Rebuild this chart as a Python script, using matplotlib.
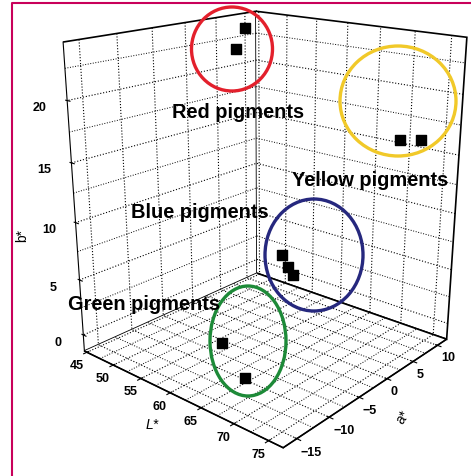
import numpy as np
import matplotlib
matplotlib.use("Agg")
import matplotlib.pyplot as plt
from matplotlib.patches import Ellipse
from matplotlib.lines import Line2D
from matplotlib.transforms import offset_copy

# pigment coordinates (L*, a*, b*)
L_vals = [46.5, 47.0, 70.0, 73.0, 55.0, 56.0, 57.0, 63.0, 67.0]
a_vals = [8.0, 6.0, 10.0, 10.0, 6.0, 6.0, 6.0, -12.0, -12.5]
b_vals = [23.5, 21.8, 15.7, 16.1, 3.8, 2.8, 2.2, 2.0, 0.1]

L_ticks = [45, 50, 55, 60, 65, 70, 75]
a_ticks = [-15, -10, -5, 0, 5, 10]
b_ticks = [0, 5, 10, 15, 20]

group_names = ["Red pigments", "Yellow pigments", "Blue pigments", "Green pigments"]
group_colors = ["#e3202c", "#f1c929", "#26287e", "#1d8a38"]

W, H = 471, 477
Llim, alim, blim = (44.5, 77), (-17, 12), (-1.5, 24.5)

plt.rcParams['grid.color'] = 'k'
plt.rcParams['grid.linestyle'] = ':'
plt.rcParams['grid.linewidth'] = 0.8
plt.rcParams['font.family'] = ['Liberation Sans', 'DejaVu Sans']

fig = plt.figure(figsize=(W/100, H/100), dpi=100)
ax = fig.add_axes([0.055, 0.064, 1.0, 1.0], projection='3d')
ax.set_proj_type('persp', focal_length=0.38)
ax.view_init(elev=19, azim=-49)

ax.scatter(L_vals, a_vals, b_vals, marker='s', s=60, c='k', depthshade=False)

# minor grid lines (floor and walls)
gkw = dict(color='k', ls=':', lw=0.7)
for v in np.arange(47.5, 76, 5):
    ax.plot([v, v], alim, [blim[0]] * 2, **gkw)
for v in np.arange(-12.5, 12, 5):
    ax.plot(Llim, [v, v], [blim[0]] * 2, **gkw)
for v in np.arange(2.5, 24, 5):
    ax.plot([Llim[0]] * 2, alim, [v, v], **gkw)
    ax.plot(Llim, [alim[1]] * 2, [v, v], **gkw)

ax.set_xlim(*Llim)
ax.set_ylim(*alim)
ax.set_zlim(*blim)
ax.set_xticks(L_ticks)
ax.set_yticks(a_ticks)
ax.set_zticks(b_ticks)
ax.tick_params(labelsize=9)
ax.xaxis.set_tick_params(pad=-5)
ax.yaxis.set_tick_params(pad=-5)
ax.zaxis.set_tick_params(pad=4)
for lab in ax.get_xticklabels() + ax.get_yticklabels() + ax.get_zticklabels():
    lab.set_fontweight('bold')
for lab in ax.get_xticklabels():
    lab.set_horizontalalignment('right')
    lab.set_transform(offset_copy(ax.transData, fig, x=-9, y=5, units='dots'))
for lab in ax.get_yticklabels():
    lab.set_horizontalalignment('left')
    lab.set_transform(offset_copy(ax.transData, fig, x=7, y=4, units='dots'))
for lab in ax.get_zticklabels():
    lab.set_transform(offset_copy(ax.transData, fig, x=-8, y=10, units='dots'))
ax.zaxis._axinfo['juggled'] = (1, 2, 0)
ax.set_box_aspect((1, 1, 1.19), zoom=1.031)
for axis in (ax.xaxis, ax.yaxis, ax.zaxis):
    axis.set_pane_color((1, 1, 1, 1))
    axis.pane.set_edgecolor('k')
    axis.pane.set_linewidth(1.2)

# axis titles
fig.text(152/W, 1-425/H, 'L*', fontsize=10, style='italic', ha='center', va='center')
fig.text(403/W, 1-417/H, 'a*', fontsize=10, rotation=55, ha='center', va='center')
fig.text(22/W, 1-235/H, 'b*', fontsize=10, rotation=90, ha='center', va='center')

# ellipses (figure pixel coords)
ell = [(232, 50, 81, 84), (398, 102, 116, 110), (314, 256, 98, 112), (248, 342, 76, 110)]
for (cx, cy, w, h), col in zip(ell, group_colors):
    fig.patches.append(Ellipse((cx/W, 1-cy/H), w/W, h/H, transform=fig.transFigure,
                               fill=False, edgecolor=col, linewidth=2.4))

text_pos = [(238, 112), (370, 180), (200, 213), (144, 305)]
for (tx, ty), name in zip(text_pos, group_names):
    fig.text(tx/W, 1-ty/H, name, ha='center', va='center', fontsize=14.4, fontweight='bold')

# frame
fig.lines.append(Line2D([12/W, 12/W, 1], [0, 1-4/H, 1-4/H], transform=fig.transFigure,
                        color='#c8005a', linewidth=1.5))

fig.savefig('out.png', dpi=100)
